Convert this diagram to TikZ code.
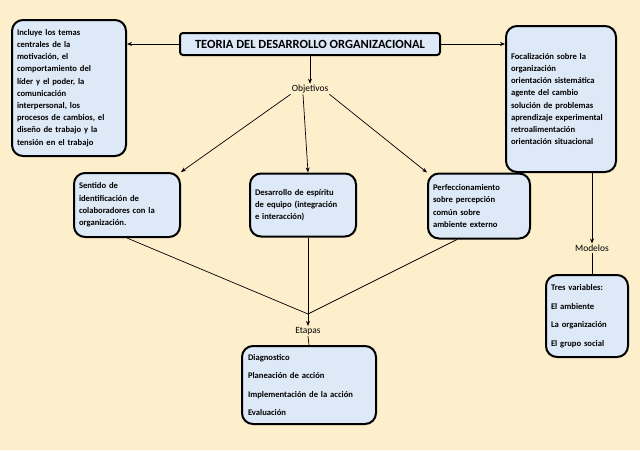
\documentclass[tikz,border=0pt]{standalone}
\usepackage{fontspec}
\setmainfont{Carlito}
\begin{document}
\begin{tikzpicture}[x=1pt,y=-1pt,
 box/.style={draw=black,line width=2pt,rounded corners=11pt,fill=boxc,inner sep=0pt,font=\bfseries\fontsize{8.6}{12.2}\selectfont},
 lab/.style={font=\fontsize{9.5}{11}\selectfont,inner sep=1pt},
 arr/.style={-{Stealth[length=5pt,width=4pt]},line width=0.7pt},
 ln/.style={line width=0.7pt}]
\usetikzlibrary{arrows.meta}
\definecolor{bg}{HTML}{FDEFCB}
\definecolor{boxc}{HTML}{DDE9F7}
\fill[bg] (0,0) rectangle (640,450);
\useasboundingbox (0,0) rectangle (640,450);
\node[box,rounded corners=3pt,minimum width=260pt,minimum height=22pt,font=\bfseries\fontsize{12.5}{14}\selectfont] (t) at (310,44) {TEORIA DEL DESARROLLO ORGANIZACIONAL};
\node[box,minimum width=114pt,minimum height=136pt,text width=104pt,align=left] (l) at (69,88) {Incluye los temas\\centrales de la\\motivación, el\\comportamiento del\\líder y el poder, la\\comunicación\\interpersonal, los\\procesos de cambios, el\\diseño de trabajo y la\\tensión en el trabajo};
\node[box,minimum width=110pt,minimum height=146pt,text width=100pt,align=left] (r) at (561,99) {Focalización sobre la\\organización\\orientación sistemática\\agente del cambio\\solución de problemas\\aprendizaje experimental\\retroalimentación\\orientación situacional\\[36pt]};
\node[lab] (o) at (310,89) {Objetivos};
\node[box,minimum width=106pt,minimum height=64pt,text width=96pt,align=left] (b1) at (127,205) {Sentido de\\identificación de\\colaboradores con la\\organización.};
\node[box,minimum width=106pt,minimum height=63pt,text width=96pt,align=left] (b2) at (303,205) {Desarrollo de espíritu\\de equipo (integración\\e interacción)\\[10pt]};
\node[box,minimum width=102pt,minimum height=65pt,text width=92pt,align=left] (b3) at (479,206) {Perfeccionamiento\\sobre percepción\\común sobre\\ambiente externo};
\coordinate (j) at (308,314);
\node[lab] (e) at (308,331) {Etapas};
\node[box,minimum width=134pt,minimum height=78pt,text width=122pt,align=left,font=\bfseries\fontsize{8.6}{18.5}\selectfont] (eb) at (309,385) {Diagnostico\\Planeación de acción\\Implementación de la acción\\Evaluación};
\node[lab] (m) at (592,248) {Modelos};
\node[box,minimum width=82pt,minimum height=82pt,text width=72pt,align=left,font=\bfseries\fontsize{8.6}{18.5}\selectfont] (mb) at (587,316) {Tres variables:\\El ambiente\\La organización\\El grupo social};
\draw[arr] (t.west) -- (l.east|-t.west);
\draw[arr] (t.east) -- (r.west|-t.east);
\draw[arr] (t.south-|o.north) -- (o.north);
\draw[arr] (o.south west) -- (b1.north east);
\draw[arr] (o.south-|b2.north) -- ([xshift=5pt]b2.north);
\draw[arr] (o.south east) -- (b3.north west);
\draw[ln] (b1.south) -- (j);
\draw[ln] ([xshift=5pt]b2.south) -- (j);
\draw[ln] (b3.south west) ++(30,0) -- (j);
\draw[arr] (j) -- (e.north);
\draw[ln] (e.south) -- (eb.north);
\draw[arr] (r.south) ++(31,0) -- (m.north);
\draw[ln] (m.south) -- (m.south|-mb.north);
\end{tikzpicture}
\end{document}
